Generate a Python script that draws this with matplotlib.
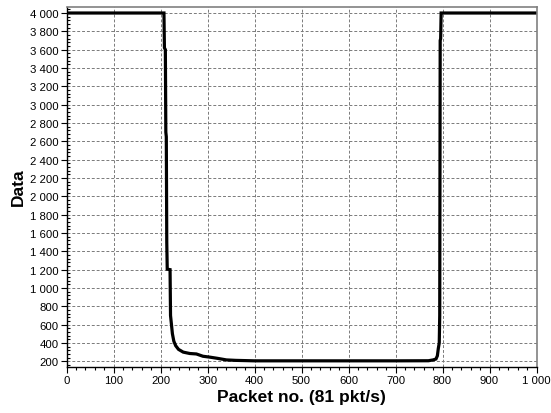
import matplotlib
matplotlib.use("Agg")
import matplotlib.pyplot as plt
from matplotlib.ticker import MultipleLocator, FuncFormatter

packet_no = [0, 207, 208, 210, 211, 212, 213, 214, 220, 221, 223, 225, 228, 232,
             238, 248, 262, 276, 290, 305, 320, 340, 360, 400, 500, 600, 700,
             770, 780, 786, 789, 791, 793, 794, 795, 796, 797, 1000]
data_vals = [4000, 4000, 3620, 3600, 2700, 2650, 1500, 1205, 1200, 700, 600, 500,
             420, 370, 330, 300, 285, 280, 255, 245, 233, 215, 210, 205, 205, 205,
             205, 206, 215, 225, 260, 340, 400, 700, 3700, 3720, 4000, 4000]

plt.rcParams['font.family'] = ['Liberation Sans', 'DejaVu Sans']

fig = plt.figure(figsize=(5.51, 4.14), dpi=100)
ax = fig.add_axes([66.7 / 551, 1 - 367.7 / 414, (536.5 - 66.7) / 551, (367.7 - 7.5) / 414])

ax.plot(packet_no, data_vals, color='black', linewidth=2.3, solid_joinstyle='miter')

ax.set_xlim(0, 1000)
ax.set_ylim(141, 4071)

ax.xaxis.set_major_locator(MultipleLocator(100))
ax.xaxis.set_minor_locator(MultipleLocator(20))
ax.yaxis.set_major_locator(MultipleLocator(200))
ax.yaxis.set_minor_locator(MultipleLocator(40))

fmt = FuncFormatter(lambda v, p: f"{int(v):,}".replace(",", " "))
ax.xaxis.set_major_formatter(fmt)
ax.yaxis.set_major_formatter(fmt)

ax.grid(True, which='major', color='#7a7a7a', linestyle=(0, (3, 2)), linewidth=0.7)

ax.tick_params(axis='both', which='major', labelsize=8.2, length=4, width=0.8, direction='out', pad=2)
ax.tick_params(axis='x', which='minor', length=2.5, width=0.8, direction='out')
ax.tick_params(axis='y', which='minor', length=2.5, width=0.8, direction='in')

for s in ['top', 'right']:
    ax.spines[s].set_color('#808080')
    ax.spines[s].set_linewidth(1.2)
for s in ['left', 'bottom']:
    ax.spines[s].set_color('black')
    ax.spines[s].set_linewidth(1.0)

ax.set_xlabel('Packet no. (81 pkt/s)', fontsize=12.5, fontweight='bold', labelpad=3)
ax.set_ylabel('Data', fontsize=12.5, fontweight='bold', labelpad=3)

fig.savefig('out.png', dpi=100)
